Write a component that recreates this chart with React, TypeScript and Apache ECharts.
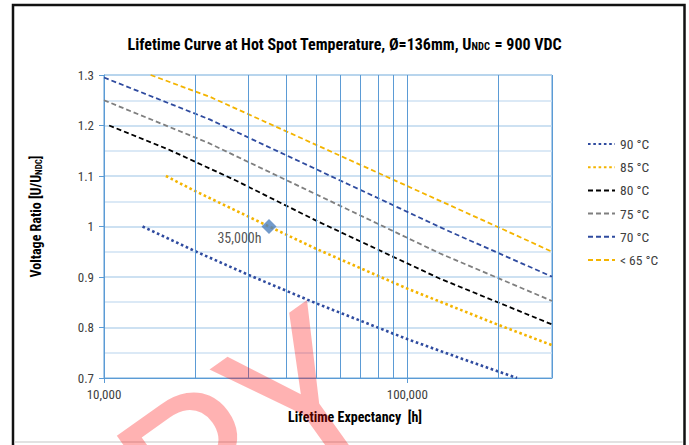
import React, { useEffect, useRef } from 'react';
import * as echarts from 'echarts';

const FONT = "'Roboto Condensed','Liberation Sans Narrow','Arial Narrow','DejaVu Sans Condensed',Roboto,sans-serif";

const seriesNames = ['90 °C', '85 °C', '80 °C', '75 °C', '70 °C', '< 65 °C'];

const life90 = [13400, 20000, 30000, 50000, 100000, 150000, 230000];
const ratio90 = [1.0, 0.951, 0.904, 0.848, 0.777, 0.739, 0.7];

const life85 = [16000, 20000, 35000, 50000, 100000, 200000, 300000];
const ratio85 = [1.1, 1.07, 1.0, 0.956, 0.877, 0.805, 0.765];

const life80 = [10400, 16250, 27000, 50700, 127800, 300000];
const ratio80 = [1.2, 1.153, 1.092, 1.01, 0.897, 0.806];

const life75 = [10000, 22000, 127800, 300000];
const ratio75 = [1.25, 1.166, 0.947, 0.8525];

const life70 = [10000, 22300, 134400, 300000];
const ratio70 = [1.295, 1.212, 0.993, 0.9006];

const life65 = [14250, 22300, 209300, 300000];
const ratio65 = [1.3, 1.257, 0.993, 0.95];

const minorGridLife = [20000, 30000, 40000, 50000, 60000, 70000, 80000, 90000, 200000];

const markerLife = [35000];
const markerRatio = [1.0];
const markerLabel = '35,000h';

const lifeMin = 10000;
const lifeMax = 300000;
const ratioMin = 0.7;
const ratioMax = 1.3;
const ratioStep = 0.1;

const BLUE = '#2f4b9f';
const ORANGE = '#f4b400';
const GRID_BLUE = '#5b9bd5';

const zip = (xs: number[], ys: number[]) => xs.map((x, i) => [x, ys[i]]);

const lineDefs = [
  { name: seriesNames[0], xs: life90, ys: ratio90, color: BLUE, width: 2.6, dash: [2.6, 2.7] },
  { name: seriesNames[1], xs: life85, ys: ratio85, color: ORANGE, width: 2.6, dash: [2.6, 2.7] },
  { name: seriesNames[2], xs: life80, ys: ratio80, color: '#000000', width: 1.8, dash: [5, 3] },
  { name: seriesNames[3], xs: life75, ys: ratio75, color: '#7f7f7f', width: 1.8, dash: [5, 3] },
  { name: seriesNames[4], xs: life70, ys: ratio70, color: BLUE, width: 1.8, dash: [5, 3] },
  { name: seriesNames[5], xs: life65, ys: ratio65, color: ORANGE, width: 1.8, dash: [5, 3] },
];

export default function App() {
  const ref = useRef<HTMLDivElement>(null);

  useEffect(() => {
    const chart = echarts.init(ref.current as HTMLDivElement, null, { renderer: 'svg' });

    const lineSeries = lineDefs.map((d) => ({
      name: d.name,
      type: 'line',
      data: zip(d.xs, d.ys),
      symbol: 'none',
      showSymbol: false,
      smooth: false,
      z: 3,
      lineStyle: { color: d.color, width: d.width, type: d.dash },
      itemStyle: { color: d.color },
    }));

    const option: any = {
      animation: false,
      backgroundColor: '#ffffff',
      textStyle: { fontFamily: FONT },
      title: {
        text: '{a|Lifetime Curve at Hot Spot Temperature, Ø=136mm, U}{b|NDC}{a| = 900 VDC}',
        left: 'center',
        top: 28,
        textStyle: {
          rich: {
            a: { fontSize: 16, fontWeight: 'bold', fontFamily: FONT, color: '#000', verticalAlign: 'bottom', lineHeight: 19 },
            b: { fontSize: 10.5, fontWeight: 'bold', fontFamily: FONT, color: '#000', verticalAlign: 'bottom', lineHeight: 19, padding: [0, 1, 0, 0] },
          },
        },
      },
      grid: {
        left: 104,
        right: 137,
        top: 75,
        bottom: 67,
        show: true,
        borderColor: GRID_BLUE,
        borderWidth: 1,
        backgroundColor: 'transparent',
      },
      legend: {
        data: seriesNames,
        orient: 'vertical',
        left: 582,
        top: 132,
        itemWidth: 27,
        itemHeight: 14,
        itemGap: 9.2,
        itemStyle: { opacity: 0 },
        textStyle: { fontSize: 13.5, color: '#404040', fontFamily: FONT },
      },
      xAxis: {
        type: 'log',
        logBase: 10,
        min: lifeMin,
        max: lifeMax,
        name: 'Lifetime Expectancy  [h]',
        nameLocation: 'middle',
        nameGap: 32,
        nameTextStyle: { fontSize: 14, fontWeight: 'bold', color: '#000', fontFamily: FONT, padding: [0, 0, 0, 54] },
        axisLine: { show: true, lineStyle: { color: GRID_BLUE, width: 1 } },
        axisTick: { show: true, length: 5, lineStyle: { color: GRID_BLUE } },
        axisLabel: {
          color: '#404040',
          fontSize: 13,
          margin: 10,
          showMaxLabel: false,
          formatter: (v: number) => Math.round(v).toLocaleString('en-US'),
        },
        splitLine: { show: true, lineStyle: { color: GRID_BLUE, width: 1 } },
      },
      yAxis: {
        type: 'value',
        min: ratioMin,
        max: ratioMax,
        interval: ratioStep,
        name: '{a|Voltage Ratio [U/U}{s|NDC}{a|]}',
        nameLocation: 'middle',
        nameGap: 61,
        nameTextStyle: {
          padding: [0, 0, 0, 20],
          rich: {
            a: { fontSize: 14, fontWeight: 'bold', color: '#000', fontFamily: FONT, verticalAlign: 'bottom', lineHeight: 18 },
            s: { fontSize: 9, fontWeight: 'bold', color: '#000', fontFamily: FONT, verticalAlign: 'bottom', lineHeight: 14 },
          },
        },
        axisLine: { show: true, lineStyle: { color: GRID_BLUE, width: 1 } },
        axisTick: { show: true, length: 5, lineStyle: { color: GRID_BLUE } },
        axisLabel: { color: '#404040', fontSize: 13, margin: 10 },
        splitLine: { show: true, lineStyle: { color: '#bdd7ee', width: 1.5 } },
        minorTick: { show: false, splitNumber: 2 },
        minorSplitLine: { show: true, lineStyle: { color: '#cfe2f3', width: 1.5 } },
      },
      series: [
        {
          name: 'minor-grid',
          type: 'line',
          data: [],
          z: 1,
          silent: true,
          markLine: {
            silent: true,
            symbol: ['none', 'none'],
            label: { show: false },
            lineStyle: { color: GRID_BLUE, width: 1, type: 'solid' },
            data: minorGridLife.map((v) => ({ xAxis: v })),
          },
        },
        ...lineSeries,
        {
          name: 'marker',
          type: 'scatter',
          data: zip(markerLife, markerRatio),
          symbol: 'diamond',
          symbolSize: 15,
          z: 5,
          itemStyle: { color: '#4f81bd' },
          label: {
            show: true,
            position: 'left',
            distance: 0,
            offset: [0, 11],
            formatter: markerLabel,
            fontSize: 14,
            color: '#262626',
            fontFamily: FONT,
          },
        },
      ],
      graphic: [
        {
          type: 'rect',
          z: 0,
          silent: true,
          shape: { x: 13, y: 5, width: 671.5, height: 460 },
          style: { fill: 'none', stroke: '#111111', lineWidth: 2.5 },
        },
        {
          type: 'line',
          z: 0,
          silent: true,
          shape: { x1: 14.5, y1: 442, x2: 682.5, y2: 442 },
          style: { stroke: '#d9d9d9', lineWidth: 1.5 },
        },
        {
          type: 'text',
          z: 100,
          silent: true,
          x: 412,
          y: 444,
          rotation: 0.62,
          style: {
            text: 'COPY',
            fontSize: 205,
            fontFamily: 'Roboto, sans-serif',
            fill: 'rgba(255,0,0,0.3)',
            align: 'right',
            verticalAlign: 'bottom',
          },
        },
      ],
    };

    chart.setOption(option);
    return () => {
      chart.dispose();
    };
  }, []);

  return (
    <div
      ref={ref}
      style={{ position: 'absolute', left: 0, top: 0, width: 689, height: 445, background: '#ffffff' }}
    />
  );
}
